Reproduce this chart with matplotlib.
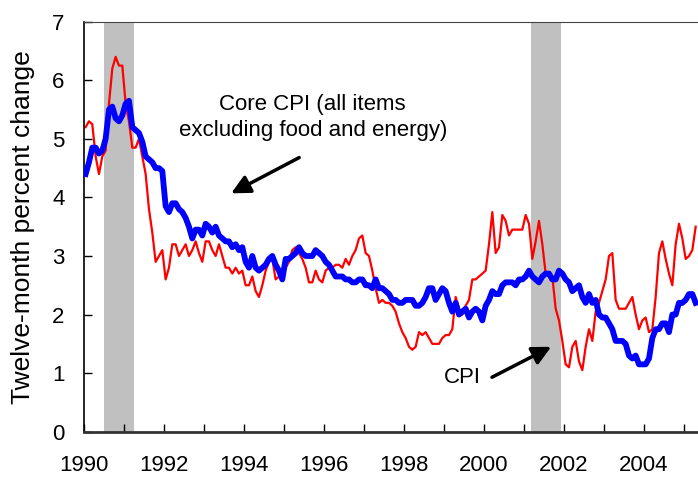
import numpy as np
import matplotlib
matplotlib.use("Agg")
import matplotlib.pyplot as plt

plt.rcParams['font.family'] = ['Liberation Sans', 'DejaVu Sans']

## the data: monthly twelve-month percent change, Jan 1990 - Apr 2005
cpi = [
    5.2, 5.3, 5.25, 4.7, 4.4, 4.7, 4.8, 5.6, 6.2, 6.4, 6.25, 6.25,      # 1990
    5.6, 5.3, 4.85, 4.85, 5.0, 4.7, 4.4, 3.8, 3.4, 2.9, 3.0, 3.1,       # 1991
    2.6, 2.8, 3.2, 3.2, 3.0, 3.1, 3.2, 3.0, 3.1, 3.25, 3.05, 2.9,       # 1992
    3.25, 3.25, 3.1, 3.0, 3.2, 3.0, 2.8, 2.8, 2.7, 2.8, 2.7, 2.75,      # 1993
    2.5, 2.5, 2.65, 2.4, 2.3, 2.5, 2.75, 2.9, 2.95, 2.6, 2.65, 2.65,    # 1994
    2.8, 2.9, 3.1, 3.15, 3.05, 2.95, 2.8, 2.55, 2.55, 2.75, 2.6, 2.55,  # 1995
    2.75, 2.8, 2.8, 2.85, 2.85, 2.8, 2.95, 2.85, 3.0, 3.1, 3.3, 3.35,   # 1996
    3.05, 3.0, 2.75, 2.45, 2.2, 2.25, 2.2, 2.2, 2.15, 2.05, 1.85, 1.7,  # 1997
    1.6, 1.45, 1.4, 1.45, 1.7, 1.65, 1.7, 1.6, 1.5, 1.5, 1.5, 1.6,      # 1998
    1.65, 1.65, 1.75, 2.3, 2.1, 2.0, 2.15, 2.25, 2.6, 2.6, 2.65, 2.7,   # 1999
    2.75, 3.2, 3.75, 3.05, 3.15, 3.7, 3.6, 3.35, 3.45, 3.45, 3.45, 3.45,  # 2000
    3.7, 3.55, 2.95, 3.25, 3.6, 3.2, 2.7, 2.7, 2.65, 2.1, 1.9, 1.55,    # 2001
    1.15, 1.1, 1.45, 1.55, 1.2, 1.05, 1.45, 1.75, 1.55, 2.05, 2.2, 2.4,  # 2002
    2.6, 3.0, 3.05, 2.25, 2.1, 2.1, 2.1, 2.2, 2.3, 2.0, 1.75, 1.9,      # 2003
    1.95, 1.7, 1.75, 2.3, 3.05, 3.25, 2.95, 2.7, 2.5, 3.2, 3.55, 3.3,   # 2004
    2.95, 3.0, 3.1, 3.5,                                                # 2005
]
core = [
    4.4, 4.6, 4.85, 4.85, 4.75, 4.8, 5.0, 5.5, 5.55, 5.35, 5.3, 5.4,    # 1990
    5.6, 5.65, 5.2, 5.15, 5.1, 4.95, 4.7, 4.65, 4.6, 4.5, 4.5, 4.45,    # 1991
    3.85, 3.75, 3.9, 3.9, 3.8, 3.75, 3.65, 3.5, 3.3, 3.45, 3.45, 3.35,  # 1992
    3.55, 3.5, 3.4, 3.5, 3.35, 3.3, 3.25, 3.25, 3.15, 3.2, 3.1, 3.15,   # 1993
    2.9, 2.8, 3.0, 2.8, 2.75, 2.8, 2.85, 2.95, 3.0, 2.85, 2.75, 2.6,    # 1994
    2.95, 2.95, 3.0, 3.05, 3.15, 3.05, 3.0, 3.0, 3.0, 3.1, 3.05, 3.0,   # 1995
    2.9, 2.85, 2.75, 2.65, 2.65, 2.65, 2.6, 2.6, 2.55, 2.55, 2.6, 2.6,  # 1996
    2.5, 2.5, 2.45, 2.6, 2.45, 2.45, 2.4, 2.35, 2.25, 2.25, 2.2, 2.2,   # 1997
    2.25, 2.25, 2.25, 2.15, 2.15, 2.2, 2.3, 2.45, 2.45, 2.25, 2.35, 2.45,  # 1998
    2.4, 2.2, 2.05, 2.2, 2.0, 2.05, 2.1, 1.95, 2.05, 2.1, 2.05, 1.9,    # 1999
    2.15, 2.25, 2.4, 2.35, 2.35, 2.5, 2.55, 2.55, 2.55, 2.5, 2.6, 2.6,  # 2000
    2.65, 2.75, 2.65, 2.6, 2.55, 2.65, 2.7, 2.7, 2.6, 2.6, 2.75, 2.7,   # 2001
    2.6, 2.55, 2.4, 2.45, 2.5, 2.3, 2.2, 2.35, 2.2, 2.25, 2.0, 1.95,    # 2002
    1.95, 1.85, 1.75, 1.55, 1.55, 1.55, 1.5, 1.3, 1.25, 1.3, 1.15, 1.15,  # 2003
    1.15, 1.25, 1.6, 1.75, 1.75, 1.85, 1.85, 1.7, 2.0, 2.0, 2.2, 2.2,   # 2004
    2.25, 2.35, 2.35, 2.2,                                              # 2005
]
recessions = [(1990.5, 1991.25), (2001.17, 2001.92)]

# months plotted at mid-month
dates = 1990 + (np.arange(len(cpi)) + 0.5) / 12.0

fig = plt.figure(figsize=(6.98, 4.79), dpi=100)
ax = fig.add_axes([0.1203, 0.0987, 0.8797, 0.856])

for start, end in recessions:
    ax.axvspan(start, end, color='#c0c0c0', lw=0, zorder=0)

ax.plot(dates, cpi, color='#ff0000', lw=1.6, zorder=2)
ax.plot(dates, core, color='#0000ff', lw=4.2, zorder=3)

# axes and labels
ax.set_xlim(1990, 2005.35)
ax.set_ylim(0, 7)
ax.set_xticks(np.arange(1990, 2006, 2))
ax.set_xticks(np.arange(1991, 2006, 2), minor=True)
ax.set_yticks(np.arange(0, 8, 1))
ax.tick_params(axis='both', which='both', direction='in', length=6, width=1,
               colors='black', labelsize=16)
ax.tick_params(axis='x', which='both', pad=17)
ax.tick_params(axis='y', pad=14)
ax.set_ylabel('Twelve-month percent change', fontsize=19, labelpad=12)

ax.spines['right'].set_visible(False)
ax.spines['top'].set_color('#444444')
ax.spines['top'].set_linewidth(0.8)
ax.spines['left'].set_linewidth(1.2)
ax.spines['bottom'].set_linewidth(2)
ax.spines['bottom'].set_color('#333333')

## annotations
ax.text(1995.72, 5.36, 'Core CPI (all items\nexcluding food and energy)',
        ha='center', va='center', fontsize=16, linespacing=1.3)
ax.annotate('', xy=(1993.68, 4.07), xytext=(1995.38, 4.68),
            arrowprops=dict(arrowstyle='-|>', color='black', lw=2.5,
                            mutation_scale=28, shrinkA=0, shrinkB=0))
ax.text(1999.47, 0.92, 'CPI', ha='center', va='center', fontsize=16)
ax.annotate('', xy=(2001.68, 1.45), xytext=(2000.2, 0.93),
            arrowprops=dict(arrowstyle='-|>', color='black', lw=2.5,
                            mutation_scale=28, shrinkA=0, shrinkB=0))

fig.savefig('out.png', dpi=100)
